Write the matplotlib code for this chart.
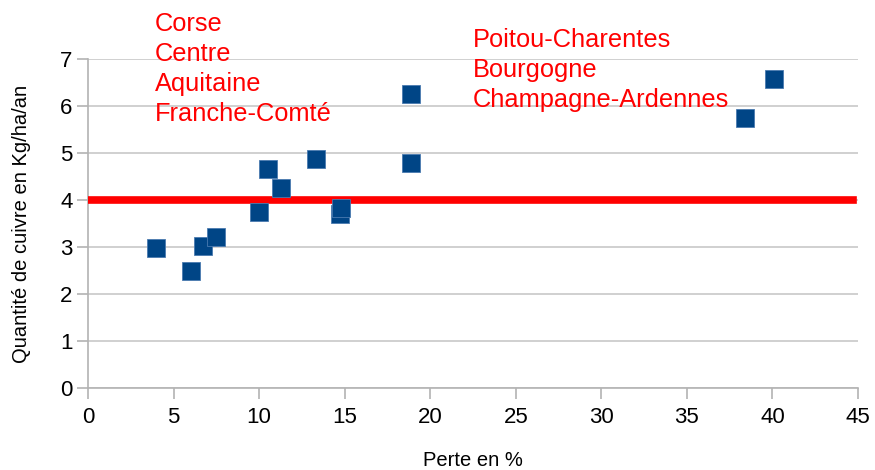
import numpy as np
import matplotlib.pyplot as plt

plt.rcParams['font.family'] = ['Liberation Sans', 'DejaVu Sans']

# perte (%) vs quantite de cuivre (kg/ha/an)
perte = [4.0, 6.0, 6.7, 7.5, 10.0, 10.5, 11.3, 13.3, 14.7, 14.8, 18.9, 18.9, 38.4, 40.1]
cuivre = [2.97, 2.48, 3.02, 3.21, 3.74, 4.67, 4.25, 4.88, 3.71, 3.82, 6.25, 4.79, 5.74, 6.58]
seuil = 4
regions_gauche = ['Corse', 'Centre', 'Aquitaine', 'Franche-Comté']
regions_droite = ['Poitou-Charentes', 'Bourgogne', 'Champagne-Ardennes']

fig = plt.figure(figsize=(8.75, 4.7), dpi=100)
ax = fig.add_axes([88/875, 1-388/470, (858-88)/875, (388-59)/470])

ax.axhline(seuil, xmin=0, xmax=(44.7)/45, color='#ff0000', lw=5.5, zorder=3)
ax.plot(perte, cuivre, 's', color='#004586', ms=12.5, mec='#4a7ab0', mew=0.6, zorder=4)

ax.set_xlim(0, 45)
ax.set_ylim(0, 7)
ax.set_xticks(np.arange(0, 46, 5))
ax.set_yticks(np.arange(0, 8, 1))
ax.yaxis.grid(True, color='#c8c8c8', lw=1.2)
ax.set_axisbelow(True)
for s in ['top', 'right']:
    ax.spines[s].set_visible(False)
for s in ['left', 'bottom']:
    ax.spines[s].set_color('#b3b3b3')
    ax.spines[s].set_linewidth(1.2)
ax.tick_params(axis='both', colors='#b3b3b3', length=8, width=1.2,
               labelsize=16, labelcolor='black')
ax.tick_params(axis='x', pad=6)
ax.tick_params(axis='y', pad=3)

ax.set_ylabel('Quantité de cuivre en Kg/ha/an', fontsize=14.5)
ax.yaxis.set_label_coords(-57/770, 0.5)
ax.set_xlabel('Perte en %', fontsize=14.5)
ax.xaxis.set_label_coords(0.5, -(451-388)/329)

for i, t in enumerate(regions_gauche):
    fig.text(155/875, 1 - (24 + 30*i)/470, t, color='#ff0000', fontsize=18.3, va='center')
for i, t in enumerate(regions_droite):
    fig.text(473/875, 1 - (40 + 30*i)/470, t, color='#ff0000', fontsize=18.3, va='center')

fig.savefig('out.png', dpi=100)
